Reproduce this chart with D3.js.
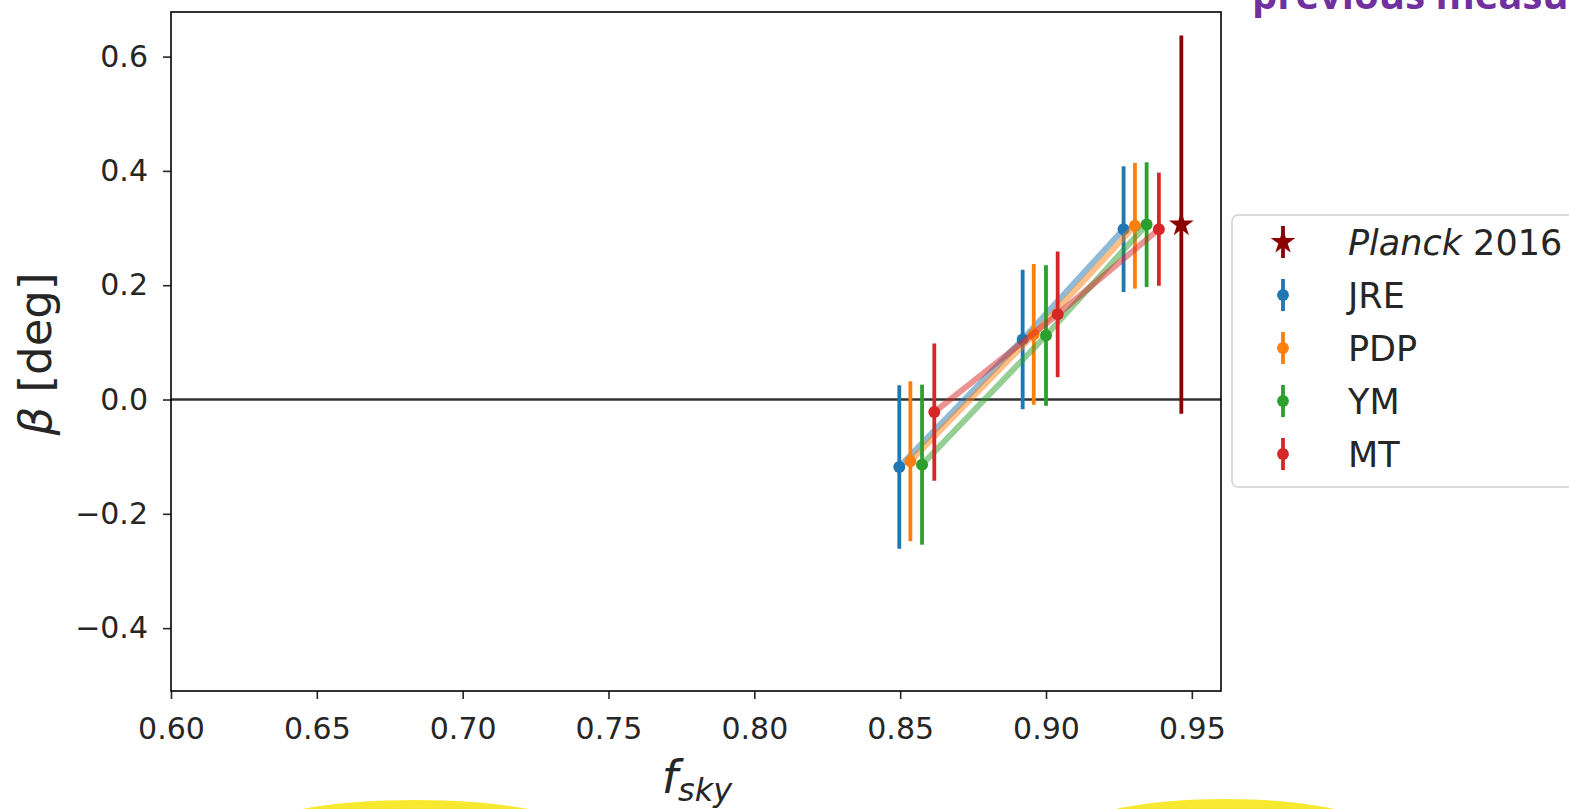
<!DOCTYPE html>
<meta charset="utf-8">
<style>
    body { margin: 0; background: #fff; }
    text { font-family: "DejaVu Sans", sans-serif; fill: #262626; }
    .axis text { font-size: 30px; }
    .axis path, .axis line { stroke: #262626; stroke-width: 1.6px; }
</style>
<svg width="1569" height="809"></svg>
<script src="https://cdn.jsdelivr.net/npm/d3@7"></script>
<script>

    var svg = d3.select("svg"),
        margin = {top: 12, right: 348, bottom: 118, left: 171},
        width = svg.attr("width") - margin.left - margin.right,
        height = svg.attr("height") - margin.top - margin.bottom,
        g = svg.append("g").attr("transform", "translate(" + margin.left + "," + margin.top + ")");

    // data
    var seriesNames = ["JRE", "PDP", "YM", "MT"];
    var seriesColors = ["#1f77b4", "#ff7f0e", "#2ca02c", "#d62728"];
    var fsky = {
        JRE: [0.8497, 0.8920, 0.9266],
        PDP: [0.8535, 0.8958, 0.9305],
        YM:  [0.8575, 0.9000, 0.9345],
        MT:  [0.8617, 0.9040, 0.9387]
    };
    var beta = {
        JRE: [-0.118, 0.105, 0.298],
        PDP: [-0.108, 0.114, 0.304],
        YM:  [-0.114, 0.112, 0.306],
        MT:  [-0.022, 0.149, 0.298]
    };
    var sigma = {
        JRE: [0.143, 0.122, 0.110],
        PDP: [0.140, 0.123, 0.110],
        YM:  [0.140, 0.123, 0.109],
        MT:  [0.120, 0.110, 0.099]
    };
    var planckFsky = 0.9464, planckBeta = 0.306, planckSigma = 0.331;
    var xTicks = [0.60, 0.65, 0.70, 0.75, 0.80, 0.85, 0.90, 0.95];
    var yTicks = [-0.4, -0.2, 0.0, 0.2, 0.4, 0.6];

    var x = d3.scaleLinear().domain([0.6, 0.96]).range([0, width]),
        y = d3.scaleLinear().domain([-0.51, 0.678]).range([height, 0]);

    // highlighter blobs under the plot
    svg.append("ellipse").attr("cx", 415).attr("cy", 830).attr("rx", 158).attr("ry", 30).attr("fill", "#f7e930");
    svg.append("ellipse").attr("cx", 1225).attr("cy", 828).attr("rx", 145).attr("ry", 29).attr("fill", "#f7e930");

    // title peeking at the top
    svg.append("text")
        .attr("x", 1252)
        .attr("y", 9)
        .style("font-family", "'Open Sans', sans-serif")
        .style("font-weight", "bold")
        .style("font-size", "40px")
        .style("fill", "#7030a0")
        .text("previous measurements");

    g.append("line")
        .attr("x1", 0).attr("x2", width)
        .attr("y1", y(0)).attr("y2", y(0))
        .attr("stroke", "#000").attr("stroke-opacity", 0.8).attr("stroke-width", 2.4);

    var line = d3.line()
        .x(function(d) { return x(d.f); })
        .y(function(d) { return y(d.b); });

    seriesNames.forEach(function(name, i) {
        var pts = fsky[name].map(function(f, j) {
            return {f: f, b: beta[name][j], s: sigma[name][j]};
        });
        var col = seriesColors[i];

        g.append("path")
            .datum(pts)
            .attr("d", line)
            .attr("fill", "none")
            .attr("stroke", col)
            .attr("stroke-opacity", 0.5)
            .attr("stroke-width", 6);

        g.selectAll(".err-" + name)
            .data(pts)
            .enter().append("line")
            .attr("x1", function(d) { return x(d.f); })
            .attr("x2", function(d) { return x(d.f); })
            .attr("y1", function(d) { return y(d.b - d.s); })
            .attr("y2", function(d) { return y(d.b + d.s); })
            .attr("stroke", col)
            .attr("stroke-width", 3.8);

        g.selectAll(".dot-" + name)
            .data(pts)
            .enter().append("circle")
            .attr("cx", function(d) { return x(d.f); })
            .attr("cy", function(d) { return y(d.b); })
            .attr("r", 6)
            .attr("fill", col);
    });

    // Planck 2016
    g.append("line")
        .attr("x1", x(planckFsky)).attr("x2", x(planckFsky))
        .attr("y1", y(planckBeta - planckSigma)).attr("y2", y(planckBeta + planckSigma))
        .attr("stroke", "#8b0000").attr("stroke-width", 3.8);
    g.append("path")
        .attr("d", d3.symbol().type(d3.symbolStar).size(190))
        .attr("transform", "translate(" + x(planckFsky) + "," + y(planckBeta) + ")")
        .attr("fill", "#8b0000");

    // axes
    g.append("g")
        .attr("class", "axis")
        .attr("transform", "translate(0," + height + ")")
        .call(d3.axisBottom(x).tickValues(xTicks).tickFormat(d3.format(".2f")).tickSize(8).tickPadding(19))
        .call(function(a) { a.select(".domain").remove(); });

    g.append("g")
        .attr("class", "axis")
        .call(d3.axisLeft(y).tickValues(yTicks).tickFormat(function(d) { return d3.format(".1f")(d).replace("-", "\u2212"); }).tickSize(8).tickPadding(15))
        .call(function(a) { a.select(".domain").remove(); });

    g.append("rect")
        .attr("width", width).attr("height", height)
        .attr("fill", "none").attr("stroke", "#000").attr("stroke-width", 1.6);

    // axis labels
    svg.append("text")
        .attr("transform", "translate(51,354) rotate(-90)")
        .attr("text-anchor", "middle")
        .style("font-size", "45px")
        .html("<tspan font-style='italic'>β</tspan> [deg]");

    var xl = svg.append("text")
        .attr("x", 697).attr("y", 793)
        .attr("text-anchor", "middle")
        .style("font-size", "46px")
        .style("font-style", "italic");
    xl.append("tspan").text("f");
    xl.append("tspan").attr("dy", 8).style("font-size", "32px").text("sky");

    // legend
    var legend = svg.append("g").attr("transform", "translate(1232,215)");
    legend.append("rect")
        .attr("width", 360).attr("height", 272).attr("rx", 6)
        .attr("fill", "#fff").attr("stroke", "#d0d0d0").attr("stroke-width", 1.5);

    var legendItems = [{name: "Planck 2016", color: "#8b0000", star: true}].concat(
        seriesNames.map(function(n, i) { return {name: n, color: seriesColors[i], star: false}; }));

    var item = legend.selectAll(".item")
        .data(legendItems)
        .enter().append("g")
        .attr("transform", function(d, i) { return "translate(51," + (27 + i * 53) + ")"; });

    item.append("line")
        .attr("y1", -16).attr("y2", 16)
        .attr("stroke", function(d) { return d.color; })
        .attr("stroke-width", 3.8);
    item.append("path")
        .attr("d", function(d) { return d3.symbol().type(d.star ? d3.symbolStar : d3.symbolCircle).size(d.star ? 190 : 110)(); })
        .attr("fill", function(d) { return d.color; });
    item.append("text")
        .attr("x", 65).attr("dy", "0.36em")
        .style("font-size", "35px")
        .html(function(d) {
            return d.star ? "<tspan font-style='italic'>Planck</tspan> 2016" : d.name;
        });

</script>
